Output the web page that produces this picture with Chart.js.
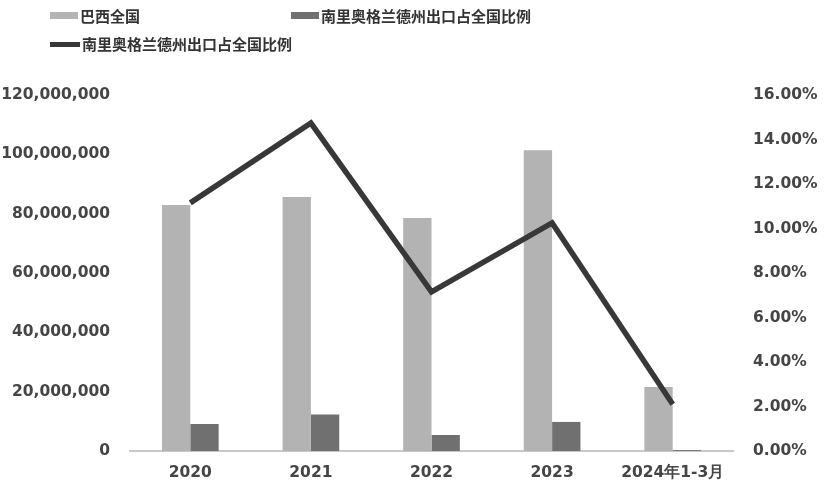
<!DOCTYPE html>
<html>
<head>
<meta charset="utf-8">
<script src="https://cdn.jsdelivr.net/npm/chart.js@4"></script>
<style>
  html, body { margin: 0; padding: 0; background: #fff; }
  #wrap { position: relative; width: 826px; height: 497px; }
  canvas { position: absolute; left: 0; top: 0; }
  .leg { position: absolute; font: bold 15px "Noto Sans CJK SC", sans-serif; color: #333; line-height: 20px; white-space: nowrap; }
  .box { position: absolute; }
</style>
</head>
<body>
<div id="wrap">
  <canvas id="chart" width="826" height="497"></canvas>
  <div id="legend"></div>
</div>
<script>
// values
const categories = ['2020', '2021', '2022', '2023', '2024年1-3月'];
const brazilTotal = [82900000, 85600000, 78500000, 101400000, 21600000];
const rgsExports = [9100000, 12300000, 5400000, 9800000, 300000];
const rgsShare = [11.15, 14.74, 7.15, 10.25, 2.1];
const leftTicks = [0, 20000000, 40000000, 60000000, 80000000, 100000000, 120000000];
const rightTicks = [0, 2, 4, 6, 8, 10, 12, 14, 16];

const labelBrazil = '巴西全国';
const labelRgs = '南里奥格兰德州出口占全国比例';

const lightGray = '#b3b3b3';
const darkGray = '#707070';
const lineColor = '#383838';
const tickFont = { family: 'DejaVu Sans', size: 15.5, weight: 'bold' };
const tickColor = '#454545';

// legend, placed like the original
const legend = document.getElementById('legend');
const items = [
  { x: 50, y: 6, kind: 'box', color: lightGray, text: labelBrazil },
  { x: 291, y: 6, kind: 'box', color: darkGray, text: labelRgs },
  { x: 50, y: 34, kind: 'line', color: lineColor, text: labelRgs },
];
items.forEach(it => {
  const mark = document.createElement('div');
  mark.className = 'box';
  mark.style.left = it.x + 'px';
  mark.style.width = (it.kind == 'box' ? 28 : 30) + 'px';
  mark.style.top = (it.kind == 'box' ? it.y + 6 : it.y + 8) + 'px';
  mark.style.height = (it.kind == 'box' ? 7 : 5) + 'px';
  mark.style.background = it.color;
  legend.appendChild(mark);
  const t = document.createElement('div');
  t.className = 'leg';
  t.style.left = (it.x + (it.kind == 'box' ? 30 : 32)) + 'px';
  t.style.top = it.y + 'px';
  t.textContent = it.text;
  legend.appendChild(t);
});

new Chart(document.getElementById('chart'), {
  data: {
    labels: categories,
    datasets: [
      {
        type: 'line',
        label: labelRgs,
        data: rgsShare,
        yAxisID: 'y1',
        borderColor: lineColor,
        borderWidth: 5.5,
        pointRadius: 0,
        tension: 0,
        order: 0,
      },
      {
        type: 'bar',
        label: labelBrazil,
        data: brazilTotal,
        yAxisID: 'y',
        backgroundColor: lightGray,
        categoryPercentage: 0.47,
        barPercentage: 1,
        order: 1,
      },
      {
        type: 'bar',
        label: labelRgs,
        data: rgsExports,
        yAxisID: 'y',
        backgroundColor: darkGray,
        categoryPercentage: 0.47,
        barPercentage: 1,
        order: 1,
      },
    ],
  },
  options: {
    responsive: false,
    animation: false,
    layout: { padding: { top: 95, left: 0, right: 0, bottom: 0 } },
    plugins: { legend: { display: false }, tooltip: { enabled: false } },
    scales: {
      x: {
        grid: { display: false, drawTicks: false },
        border: { display: true, color: '#c8c8c8', width: 2 },
        ticks: { font: tickFont, color: tickColor, padding: 13, maxRotation: 0 },
        afterFit: s => { s.height = 46; },
      },
      y: {
        position: 'left',
        min: 0,
        max: 120000000,
        grid: { display: false, drawTicks: false },
        border: { display: false },
        afterBuildTicks: s => { s.ticks = leftTicks.map(v => ({ value: v })); },
        ticks: {
          font: tickFont,
          color: tickColor,
          padding: 20,
          callback: v => v.toLocaleString('en-US'),
        },
        afterFit: s => { s.width = 130; },
      },
      y1: {
        position: 'right',
        min: 0,
        max: 16,
        grid: { display: false, drawTicks: false },
        border: { display: false },
        afterBuildTicks: s => { s.ticks = rightTicks.map(v => ({ value: v })); },
        ticks: {
          font: tickFont,
          color: tickColor,
          padding: 20,
          callback: v => v.toFixed(2) + '%',
        },
        afterFit: s => { s.width = 93; },
      },
    },
  },
});
</script>
</body>
</html>
